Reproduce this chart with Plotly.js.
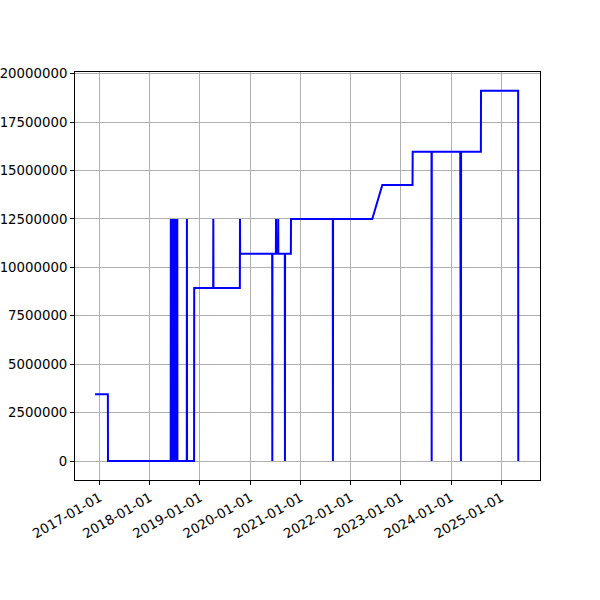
<!DOCTYPE html>
<html>
<head>
<meta charset="utf-8">
<script src="https://cdn.plot.ly/plotly-3.0.1.min.js"></script>
<style>html,body{margin:0;padding:0;background:#fff;}#chart{width:600px;height:600px;}</style>
</head>
<body>
<div id="chart"></div>
<script>
const dates = [
  "2016-11-29","2017-03-02","2017-03-03",
  "2018-06-02","2018-06-03","2018-06-04",
  "2018-06-10","2018-06-11","2018-06-12",
  "2018-06-18","2018-06-19","2018-06-20",
  "2018-06-26","2018-06-27","2018-06-28",
  "2018-07-04","2018-07-05","2018-07-06",
  "2018-07-12","2018-07-13","2018-07-14",
  "2018-07-19","2018-07-20","2018-07-21",
  "2018-09-27","2018-09-28","2018-09-29",
  "2018-11-19","2018-11-20",
  "2019-04-07","2019-04-08","2019-04-09",
  "2019-10-18","2019-10-19","2019-10-20",
  "2020-06-09","2020-06-10","2020-06-11",
  "2020-07-06","2020-07-07","2020-07-08",
  "2020-07-22","2020-07-23","2020-07-24",
  "2020-09-09","2020-09-10","2020-09-11",
  "2020-10-23","2020-10-24",
  "2021-08-24","2021-08-25","2021-08-26",
  "2022-06-07","2022-08-19",
  "2023-03-27","2023-03-28",
  "2023-08-12","2023-08-13","2023-08-14",
  "2024-03-08","2024-03-09","2024-03-10",
  "2024-03-12","2024-03-13","2024-03-14",
  "2024-08-05","2024-08-06",
  "2025-05-03","2025-05-04"
];
const values = [
  3450000,3450000,0,
  0,12500000,0,
  0,12500000,0,
  0,12500000,0,
  0,12500000,0,
  0,12500000,0,
  0,12500000,0,
  0,12500000,0,
  0,12500000,0,
  0,8940000,
  8940000,12500000,8940000,
  8940000,12500000,10700000,
  10700000,0,10700000,
  10700000,12500000,10700000,
  10700000,12500000,10700000,
  10700000,0,10700000,
  10700000,12500000,
  12500000,0,12500000,
  12500000,14250000,
  14250000,15970000,
  15970000,0,15970000,
  15970000,0,15970000,
  15970000,0,15970000,
  15970000,19120000,
  19120000,0
];
const xTicks = ["2017-01-01","2018-01-01","2019-01-01","2020-01-01","2021-01-01","2022-01-01","2023-01-01","2024-01-01","2025-01-01"];
const yTicks = [0,2500000,5000000,7500000,10000000,12500000,15000000,17500000,20000000];

const trace = {
  x: dates, y: values, type: "scatter", mode: "lines",
  line: {color: "#0000ff", width: 2},
  hoverinfo: "skip"
};
const font = {family: "DejaVu Sans, sans-serif", size: 13.3, color: "#000"};
const layout = {
  width: 600, height: 600,
  margin: {l: 75, r: 60, t: 72, b: 120, pad: 0},
  paper_bgcolor: "#fff", plot_bgcolor: "#fff",
  showlegend: false,
  font: font,
  xaxis: {
    type: "date",
    range: ["2016-07-06", "2025-10-09"],
    tickmode: "array", tickvals: xTicks, ticktext: xTicks,
    tickangle: -30,
    ticks: "outside", ticklen: 4, tickwidth: 1, tickcolor: "#000",
    showgrid: true, gridcolor: "#b0b0b0", gridwidth: 1,
    showline: true, linecolor: "#000", linewidth: 1, mirror: true,
    zeroline: false, tickfont: font
  },
  yaxis: {
    range: [-980000, 20090000],
    tickmode: "array", tickvals: yTicks, ticktext: yTicks.map(String),
    ticks: "outside", ticklen: 4, tickwidth: 1, tickcolor: "#000",
    showgrid: true, gridcolor: "#b0b0b0", gridwidth: 1,
    showline: true, linecolor: "#000", linewidth: 1, mirror: true,
    zeroline: false, tickfont: font
  }
};
Plotly.newPlot("chart", [trace], layout, {staticPlot: true, displayModeBar: false});
</script>
</body>
</html>
